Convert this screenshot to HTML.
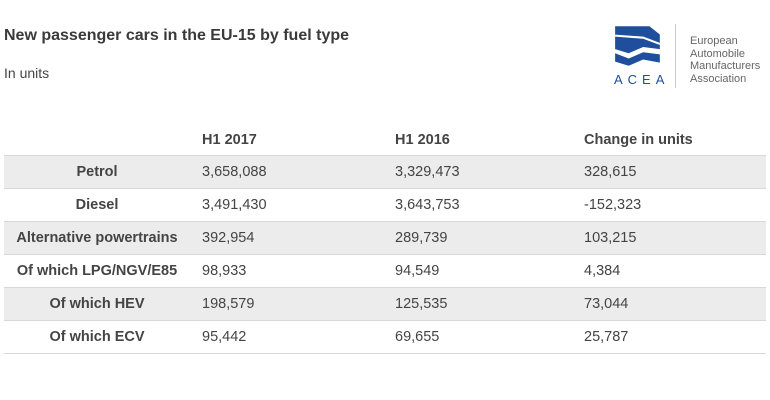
<!DOCTYPE html>
<html><head><style>
body{margin:0;width:770px;height:400px;background:#fff;font-family:"Liberation Sans",sans-serif;color:#444;position:relative;overflow:hidden}
.t{position:absolute;left:4px;top:27px;font-size:16px;font-weight:bold;color:#3a3a3a}
.s{position:absolute;left:4px;top:65px;font-size:14px;color:#444}
.row{position:absolute;left:4px;width:762px;height:32px;border-bottom:1px solid #d8d8d8;font-size:14.5px;line-height:32px}
.g{background:#ececec}
.row span{position:absolute}
.l{left:0;width:186px;text-align:center;font-weight:bold}
.a{left:198px}.b{left:391px}.c{left:580px}
.h{font-weight:bold;border:none}
</style></head><body>
<div class="t">New passenger cars in the EU-15 by fuel type</div>
<div class="s">In units</div>
<svg style="position:absolute;left:612px;top:24px" width="52" height="44" viewBox="0 0 50 42">
<path d="M3 2 L36 2 L46 10 L46 24 L30 22 L16 28 L3 24 Z" fill="#1f4e9c"/>
<path d="M3 11 L30 13 L46 19" stroke="#fff" stroke-width="2" fill="none"/>
<path d="M3 28 L16 33 L30 27 L46 29 L46 37 L30 34 L16 40 L3 36 Z" fill="#1f4e9c"/>
</svg>
<div style="position:absolute;left:614px;top:72px;font-size:13px;color:#1f4e9c;letter-spacing:5px">ACEA</div>
<div style="position:absolute;left:675px;top:24px;width:1px;height:64px;background:#ccc"></div>
<div style="position:absolute;left:690px;top:35px;font-size:11px;line-height:12.5px;color:#666">European<br>Automobile<br>Manufacturers<br>Association</div>
<div class="row h" style="top:124px"><span class="a">H1 2017</span><span class="b">H1 2016</span><span class="c">Change in units</span></div>
<div class="row g" style="top:156px"><span class="l">Petrol</span><span class="a">3,658,088</span><span class="b">3,329,473</span><span class="c">328,615</span></div>
<div class="row" style="top:189px"><span class="l">Diesel</span><span class="a">3,491,430</span><span class="b">3,643,753</span><span class="c">-152,323</span></div>
<div class="row g" style="top:222px"><span class="l">Alternative powertrains</span><span class="a">392,954</span><span class="b">289,739</span><span class="c">103,215</span></div>
<div class="row" style="top:255px"><span class="l">Of which LPG/NGV/E85</span><span class="a">98,933</span><span class="b">94,549</span><span class="c">4,384</span></div>
<div class="row g" style="top:288px"><span class="l">Of which HEV</span><span class="a">198,579</span><span class="b">125,535</span><span class="c">73,044</span></div>
<div class="row" style="top:321px"><span class="l">Of which ECV</span><span class="a">95,442</span><span class="b">69,655</span><span class="c">25,787</span></div>
<div style="position:absolute;left:4px;top:155px;width:762px;border-top:1px solid #d8d8d8"></div>
</body></html>
